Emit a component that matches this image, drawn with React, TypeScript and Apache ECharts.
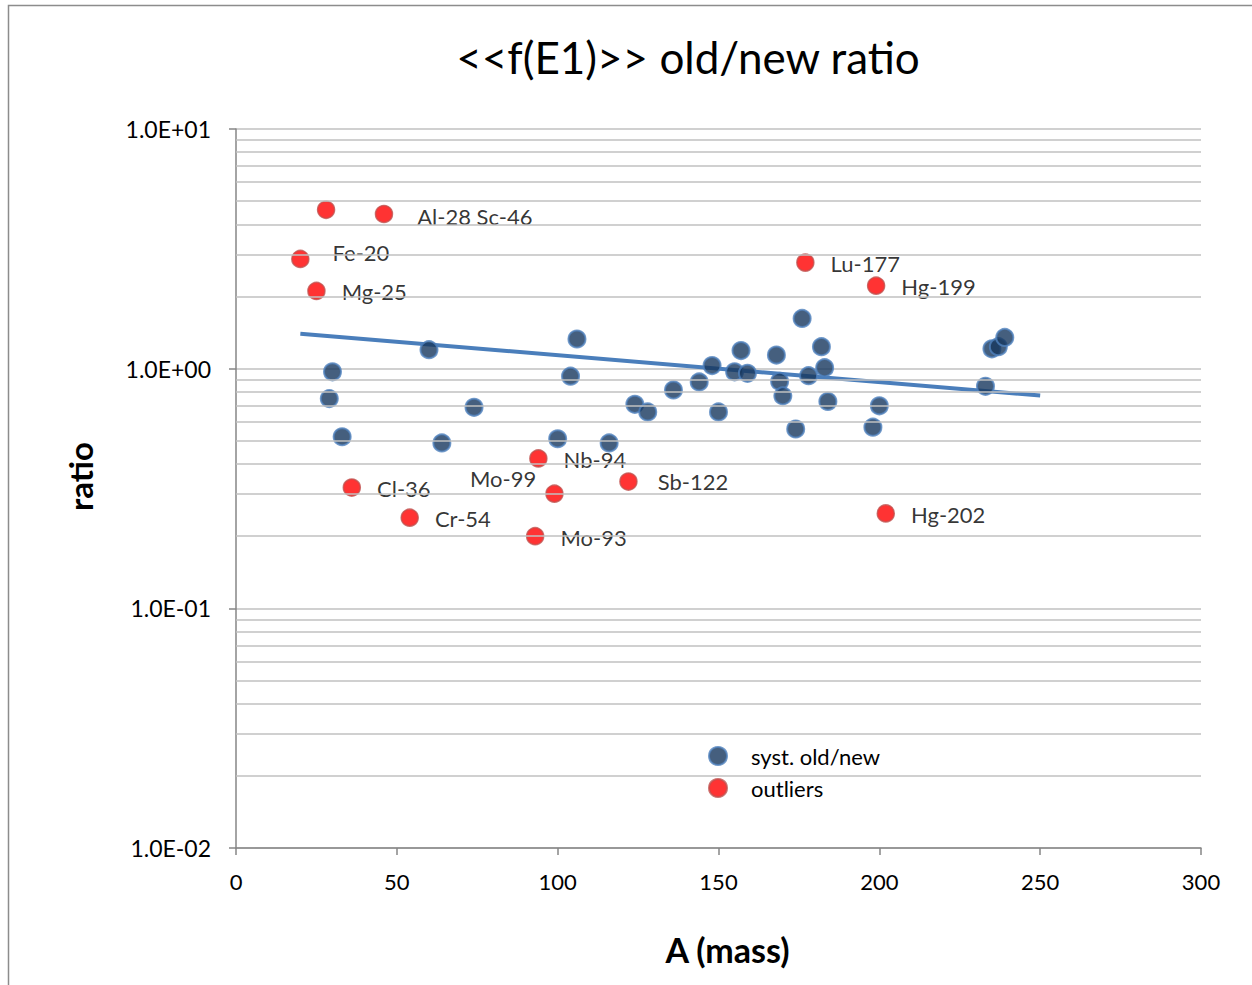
import React, { useEffect, useRef } from "react";
import * as echarts from "echarts";

const titleText = "<<f(E1)>> old/new ratio";
const xAxisName = "A (mass)";
const yAxisName = "ratio";
const seriesNames = ["syst. old/new", "outliers"];

// systematic points
const systA = [30, 29, 33, 60, 64, 74, 100, 104, 106, 116, 124, 128, 136, 144, 148, 150, 155, 157, 159, 168, 169, 170, 174, 176, 178, 182, 183, 184, 198, 200, 233, 235, 237, 239];
const systRatio = [0.97, 0.75, 0.52, 1.2, 0.49, 0.69, 0.51, 0.93, 1.33, 0.49, 0.71, 0.66, 0.815, 0.88, 1.03, 0.66, 0.97, 1.19, 0.956, 1.14, 0.885, 0.77, 0.56, 1.62, 0.935, 1.235, 1.01, 0.73, 0.57, 0.7, 0.844, 1.21, 1.235, 1.35];

// outliers
const outlierA = [28, 46, 20, 25, 36, 54, 94, 99, 93, 122, 177, 199, 202];
const outlierRatio = [4.6, 4.42, 2.87, 2.11, 0.319, 0.239, 0.422, 0.301, 0.2, 0.338, 2.77, 2.22, 0.249];
const outlierLabels = ["", "Al-28 Sc-46", "Fe-20", "Mg-25", "Cl-36", "Cr-54", "Nb-94", "Mo-99", "Mo-93", "Sb-122", "Lu-177", "Hg-199", "Hg-202"];

// trend line end points
const trendA = [20, 250];
const trendRatio = [1.4, 0.772];

// minor log grid lines
const minorGrid = [9, 8, 7, 6, 5, 4, 3, 2, 0.9, 0.8, 0.7, 0.6, 0.5, 0.4, 0.3, 0.2, 0.09, 0.08, 0.07, 0.06, 0.05, 0.04, 0.03, 0.02];

// label placement (style)
const labelPlace: Record<string, { position: string; distance: number; offset: number[] }> = {
  "Al-28 Sc-46": { position: "right", distance: 24, offset: [0, 3] },
  "Fe-20": { position: "right", distance: 23, offset: [0, -6] },
  "Mg-25": { position: "right", distance: 16, offset: [0, 1] },
  "Mo-99": { position: "left", distance: 9, offset: [0, -15] },
  "Sb-122": { position: "right", distance: 20, offset: [0, 0] },
};

const FONT = "Lato, 'Open Sans', sans-serif";

export default function App() {
  const ref = useRef<HTMLDivElement>(null);
  useEffect(() => {
    document.body.style.margin = "0";
    const chart = echarts.init(ref.current!, null, { renderer: "svg" });
    const fmtExp = (v: number) => {
      const e = Math.round(Math.log10(v));
      return `1.0E${e < 0 ? "-" : "+"}${String(Math.abs(e)).padStart(2, "0")}`;
    };
    const outlierData = outlierA.map((a, i) => {
      const lbl = outlierLabels[i];
      const place = labelPlace[lbl] || { position: "right", distance: 16, offset: [0, 1] };
      return {
        value: [a, outlierRatio[i]],
        label: {
          show: lbl !== "",
          formatter: lbl,
          position: place.position,
          distance: place.distance,
          offset: place.offset,
        },
      };
    });
    chart.setOption({
      animation: false,
      textStyle: { fontFamily: FONT },
      title: {
        text: titleText,
        left: 683,
        top: 30,
        textAlign: "center",
        textStyle: { fontFamily: FONT, fontSize: 44, fontWeight: "normal", color: "#000" },
      },
      graphic: [
        {
          type: "rect",
          shape: { x: 8.5, y: 5.5, width: 1260, height: 1000 },
          style: { fill: "none", stroke: "#8c8c8c", lineWidth: 1.5 },
          silent: true,
        },
      ],
      legend: {
        data: seriesNames,
        orient: "vertical",
        left: 703,
        top: 740,
        itemWidth: 18,
        itemHeight: 18,
        itemGap: 10,
        textStyle: { fontFamily: FONT, fontSize: 22, color: "#000", padding: [0, 0, 0, 19] },
      },
      grid: { left: 236, right: 51, top: 129, bottom: 137 },
      xAxis: {
        type: "value",
        min: 0,
        max: 300,
        interval: 50,
        name: xAxisName,
        nameLocation: "middle",
        nameGap: 84,
        nameTextStyle: { fontFamily: FONT, fontSize: 34, fontWeight: "bold", color: "#000", padding: [0, 0, 0, 18] },
        axisLine: { lineStyle: { color: "#868686", width: 1.5 } },
        axisTick: { show: true, length: 7, lineStyle: { color: "#868686", width: 1.5 } },
        axisLabel: { fontFamily: FONT, fontSize: 22, color: "#000", margin: 22 },
        splitLine: { show: false },
      },
      yAxis: {
        type: "log",
        logBase: 10,
        min: 0.01,
        max: 10,
        name: yAxisName,
        nameLocation: "middle",
        nameRotate: 90,
        nameGap: 140,
        nameTextStyle: { fontFamily: FONT, fontSize: 33, fontWeight: "bold", color: "#000", padding: [0, 0, 0, 24] },
        axisLine: { show: true, lineStyle: { color: "#868686", width: 1.5 } },
        axisTick: { show: true, length: 7, lineStyle: { color: "#868686", width: 1.5 } },
        axisLabel: { fontFamily: FONT, fontSize: 23, color: "#000", margin: 25, formatter: fmtExp },
        splitLine: { show: true, lineStyle: { color: "#c0c0c0", width: 1.5 } },
      },
      series: [
        {
          name: "grid",
          type: "line",
          data: [],
          silent: true,
          z: 1,
          markLine: {
            silent: true,
            symbol: ["none", "none"],
            label: { show: false },
            lineStyle: { color: "#c0c0c0", width: 1.5, type: "solid" },
            emphasis: { disabled: true },
            data: minorGrid.map((v) => ({ yAxis: v })),
          },
        },
        {
          name: "trend",
          type: "line",
          data: trendA.map((a, i) => [a, trendRatio[i]]),
          symbol: "none",
          silent: true,
          z: 2,
          lineStyle: { color: "#4a7ebb", width: 4 },
        },
        {
          name: seriesNames[0],
          type: "scatter",
          symbol: "circle",
          symbolSize: 17,
          z: 3,
          itemStyle: { color: "#17375e", borderColor: "#4f81bd", borderWidth: 2 },
          data: systA.map((a, i) => [a, systRatio[i]]),
        },
        {
          name: seriesNames[1],
          type: "scatter",
          symbol: "circle",
          symbolSize: 17,
          z: 4,
          itemStyle: { color: "#ff0000", borderColor: "#c0504d", borderWidth: 1.5 },
          label: { fontFamily: FONT, fontSize: 22, color: "#000" },
          data: outlierData,
        },
      ],
    });
    return () => chart.dispose();
  }, []);
  return <div ref={ref} style={{ width: 1252, height: 985 }} />;
}
